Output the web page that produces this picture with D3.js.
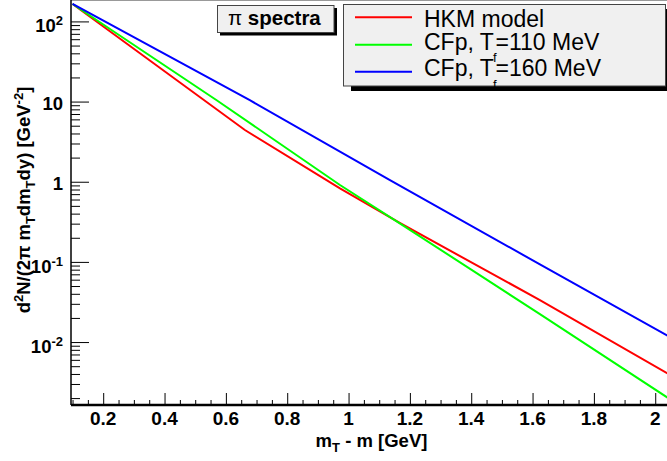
<!DOCTYPE html>
<html><head><meta charset="utf-8">
<script src="https://cdn.jsdelivr.net/npm/d3@7"></script>
<style>
html,body{margin:0;padding:0;background:#fff;}
svg{display:block;font-family:"Liberation Sans",Arial,Helvetica,sans-serif;}
</style></head><body>
<svg id="c" width="667" height="461"></svg>
<script>
// ---- data ----
const seriesColors = ["#ff0000", "#00ff00", "#0000ff"];
const hkmX = [0.10, 0.662, 0.972, 1.167, 1.624, 2.04];
const hkmY = [165, 4.42, 0.827, 0.306, 0.0334, 0.00406];
const cf110X = [0.10, 0.570, 0.972, 1.167, 1.624, 2.04];
const cf110Y = [165, 10.4, 0.910, 0.303, 0.0223, 0.00203];
const cf160X = [0.10, 0.678, 1.135, 1.624, 2.04];
const cf160Y = [165, 10.4, 1.05, 0.0931, 0.0120];
const xMajorTicks = [0.2, 0.4, 0.6, 0.8, 1.0, 1.2, 1.4, 1.6, 1.8, 2.0];
const xTickLabels = ["0.2", "0.4", "0.6", "0.8", "1", "1.2", "1.4", "1.6", "1.8", "2"];
const yMajorTicks = [100, 10, 1, 0.1, 0.01];
const yTickBase = ["10", "10", "1", "10", "10"];
const yTickExp = ["2", "", "", "-1", "-2"];

// ---- layout ----
const svg = d3.select("#c");
const X0 = 71, X1 = 667.5, Y0 = 0, Y1 = 405;
const x = d3.scaleLinear().domain([0.095, 2.04]).range([X0, X1]);
const y = d3.scaleLog().domain([185, 0.00164]).range([Y0, Y1]);

svg.append("defs").append("clipPath").attr("id", "clip")
  .append("rect").attr("x", X0).attr("y", Y0).attr("width", X1 - X0).attr("height", Y1 - Y0);

// frame top
svg.append("line").attr("x1", X0).attr("x2", 667).attr("y1", 0.5).attr("y2", 0.5)
  .attr("stroke", "#999").attr("stroke-width", 1);

// curves
const series = [
  {xs: hkmX, ys: hkmY, c: seriesColors[0]},
  {xs: cf110X, ys: cf110Y, c: seriesColors[1]},
  {xs: cf160X, ys: cf160Y, c: seriesColors[2]}
];
const line = d3.line().x(d => x(d[0])).y(d => y(d[1]));
const g = svg.append("g").attr("clip-path", "url(#clip)");
series.forEach(s => {
  g.append("path").datum(s.xs.map((v, i) => [v, s.ys[i]]))
    .attr("d", line).attr("fill", "none").attr("stroke", s.c).attr("stroke-width", 2);
});

// x axis ticks
const xMinor = d3.range(0.1, 2.04, 0.05).filter(v => Math.abs(Math.round(v * 5) - v * 5) > 1e-6);
const xa = svg.append("g").attr("transform", `translate(0,${Y1})`);
xa.call(d3.axisBottom(x).tickValues(xMajorTicks).tickSizeInner(-12).tickSizeOuter(0).tickFormat(""));
xa.append("g").call(d3.axisBottom(x).tickValues(xMinor).tickSizeInner(-5).tickSizeOuter(0).tickFormat(""));
xa.selectAll(".domain").remove();
xa.selectAll("line").attr("stroke", "#000").attr("stroke-width", 1);
svg.append("line").attr("x1", X0).attr("x2", 667).attr("y1", Y1).attr("y2", Y1)
  .attr("stroke", "#000").attr("stroke-width", 2.5);
svg.append("g").selectAll("text").data(xMajorTicks).join("text")
  .attr("x", d => x(d)).attr("y", 425).attr("text-anchor", "middle")
  .attr("font-size", 19).attr("font-weight", "bold")
  .text((d, i) => xTickLabels[i]);

// y axis ticks
const yMinor = [];
[0.001, 0.01, 0.1, 1, 10, 100].forEach(dec => {
  for (let k = 2; k <= 9; k++) { const v = dec * k; if (v < 185 && v > 0.00164) yMinor.push(v); }
});
const ya = svg.append("g").attr("transform", `translate(${X0},0)`);
ya.call(d3.axisLeft(y).tickValues(yMajorTicks).tickSizeInner(-18).tickSizeOuter(0).tickFormat(""));
ya.append("g").call(d3.axisLeft(y).tickValues(yMinor).tickSizeInner(-9).tickSizeOuter(0).tickFormat(""));
ya.selectAll(".domain").remove();
ya.selectAll("line").attr("stroke", "#000").attr("stroke-width", 1);
svg.append("line").attr("x1", X0).attr("x2", X0).attr("y1", 0).attr("y2", Y1)
  .attr("stroke", "#000").attr("stroke-width", 1.5);

const yl = svg.append("g").selectAll("text").data(yMajorTicks).join("text")
  .attr("x", 63).attr("text-anchor", "end")
  .attr("font-size", 18.5).attr("font-weight", "bold")
  .attr("y", (d, i) => y(d) + (yTickExp[i] ? 11 : 8.5));
yl.each(function(d, i) {
  const t = d3.select(this);
  t.append("tspan").text(yTickBase[i]);
  if (yTickExp[i]) t.append("tspan").attr("dy", -7).attr("font-size", 13).text(yTickExp[i]);
});

// axis titles
const xt = svg.append("text").attr("x", 371.5).attr("y", 446.5).attr("text-anchor", "middle")
  .attr("font-size", 18.5).attr("font-weight", "bold");
xt.append("tspan").text("m");
xt.append("tspan").attr("dy", 5).attr("font-size", 13).text("T");
xt.append("tspan").attr("dy", -5).text(" - m [GeV]");

const yt = svg.append("text").attr("transform", "translate(30,200) rotate(-90)")
  .attr("text-anchor", "middle").attr("font-size", 18.5).attr("font-weight", "bold");
yt.append("tspan").text("d");
yt.append("tspan").attr("dy", -7).attr("font-size", 13).text("2");
yt.append("tspan").attr("dy", 7).text("N/(2π m");
yt.append("tspan").attr("dy", 5).attr("font-size", 13).text("T");
yt.append("tspan").attr("dy", -5).text("dm");
yt.append("tspan").attr("dy", 5).attr("font-size", 13).text("T");
yt.append("tspan").attr("dy", -5).text("dy) [GeV");
yt.append("tspan").attr("dy", -7).attr("font-size", 13).text("-2");
yt.append("tspan").attr("dy", 7).text("]");

// title box
svg.append("rect").attr("x", 220).attr("y", 8).attr("width", 117).attr("height", 27.5).attr("fill", "#000");
svg.append("rect").attr("x", 217.5).attr("y", 5.5).attr("width", 116.5).attr("height", 27)
  .attr("fill", "#f0f0f0").attr("stroke", "#444").attr("stroke-width", 1);
const tt = svg.append("text").attr("x", 228).attr("y", 25).attr("font-size", 20.5);
tt.append("tspan").text("π ");
tt.append("tspan").attr("font-weight", "bold").text("spectra");

// legend
svg.append("rect").attr("x", 351).attr("y", 9).attr("width", 322).attr("height", 82).attr("fill", "#000");
svg.append("rect").attr("x", 343.5).attr("y", 4.5).attr("width", 322).attr("height", 81.5)
  .attr("fill", "#f0f0f0").attr("stroke", "#444").attr("stroke-width", 1);
const legY = [17.3, 44.7, 71.7];
const legBase = [27, 49.5, 76];
seriesColors.forEach((c, i) => {
  svg.append("line").attr("x1", 355).attr("x2", 412).attr("y1", legY[i]).attr("y2", legY[i])
    .attr("stroke", c).attr("stroke-width", 2);
});
const legendTexts = [["HKM model"], ["CFp, T", "f", "=110 MeV"], ["CFp, T", "f", "=160 MeV"]];
legendTexts.forEach((parts, i) => {
  const t = svg.append("text").attr("x", 424).attr("y", legBase[i]).attr("font-size", 23);
  t.append("tspan").text(parts[0]);
  if (parts.length > 1) {
    t.append("tspan").attr("dy", 12.5).attr("dx", -1).attr("font-size", 13).text(parts[1]);
    t.append("tspan").attr("dy", -12.5).attr("dx", -1).text(parts[2]);
  }
});
</script>
</body></html>
